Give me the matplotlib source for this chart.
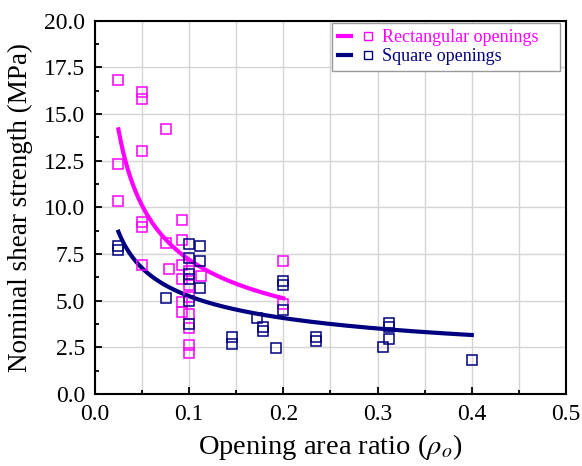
import numpy as np
import matplotlib
matplotlib.use('Agg')
from matplotlib import pyplot as plt
from matplotlib.lines import Line2D
from matplotlib.legend_handler import HandlerTuple
from matplotlib.ticker import MultipleLocator

plt.rcParams['font.family'] = 'Liberation Serif'
plt.rcParams['mathtext.fontset'] = 'stix'

# rectangular openings: opening area ratio vs nominal shear strength (MPa)
rect_ratio = [0.025, 0.025, 0.025, 0.05, 0.05, 0.05, 0.05, 0.05, 0.05,
              0.075, 0.075, 0.079, 0.093, 0.093, 0.093, 0.093, 0.093, 0.093,
              0.1, 0.1, 0.1, 0.1, 0.1, 0.1, 0.1, 0.113, 0.2, 0.2]
rect_strength = [16.8, 12.3, 10.35, 16.2, 15.8, 13.0, 9.2, 8.95, 6.9,
                 14.2, 8.1, 6.7, 9.3, 8.25, 6.9, 6.15, 4.95, 4.4,
                 6.6, 5.85, 5.2, 4.3, 3.55, 2.6, 2.2, 6.3, 7.1, 4.8]

# square openings
sq_ratio = [0.025, 0.025, 0.076, 0.1, 0.1, 0.1, 0.1, 0.1, 0.1,
            0.112, 0.112, 0.112, 0.146, 0.146, 0.172, 0.178, 0.178, 0.192,
            0.2, 0.2, 0.2, 0.235, 0.235, 0.306, 0.3125, 0.3125, 0.3125, 0.4]
sq_strength = [7.95, 7.7, 5.13, 8.05, 7.3, 6.45, 6.15, 4.98, 3.73,
               7.94, 7.12, 5.66, 3.04, 2.68, 4.05, 3.57, 3.39, 2.45,
               6.07, 5.84, 4.5, 3.04, 2.85, 2.5, 3.82, 3.57, 2.93, 1.82]

# power-law fits  v = a * rho^b
rect_fit = (2.335, -0.489)
rect_fit_range = (0.025, 0.2)
sq_fit = (2.262, -0.365)
sq_fit_range = (0.025, 0.4)

PINK = '#ff00ff'
NAVY = '#000080'

fig = plt.figure(figsize=(5.82, 4.66), dpi=100)
ax = fig.add_axes([0.163, 0.1545, 0.8095, 0.801])

ax.grid(True, which='major', axis='both', color='#d4d4d4', lw=1.0, zorder=0)
ax.grid(True, which='minor', axis='x', color='#d4d4d4', lw=1.0, zorder=0)

x1 = np.linspace(*rect_fit_range, 200)
x2 = np.linspace(*sq_fit_range, 200)
ax.plot(x1, rect_fit[0] * x1 ** rect_fit[1], color=PINK, lw=3, zorder=3)
ax.plot(x2, sq_fit[0] * x2 ** sq_fit[1], color=NAVY, lw=3, zorder=3)

ax.plot(rect_ratio, rect_strength, 's', ms=7, mfc='none', mec=PINK, mew=1.1, zorder=4)
ax.plot(sq_ratio, sq_strength, 's', ms=7, mfc='none', mec=NAVY, mew=1.1, zorder=4)

ax.set_xlim(0, 0.5)
ax.set_ylim(0, 20)
ax.xaxis.set_major_locator(MultipleLocator(0.1))
ax.xaxis.set_minor_locator(MultipleLocator(0.05))
ax.yaxis.set_major_locator(MultipleLocator(2.5))
ax.yaxis.set_minor_locator(MultipleLocator(1.25))
ax.xaxis.set_major_formatter(matplotlib.ticker.FormatStrFormatter('%.1f'))
ax.yaxis.set_major_formatter(matplotlib.ticker.FormatStrFormatter('%.1f'))
ax.tick_params(which='both', direction='in', top=False, right=False,
               labelsize=17, width=1.3)
ax.tick_params(which='major', length=5, pad=7)
ax.tick_params(which='minor', length=3)
for s in ax.spines.values():
    s.set_linewidth(1.5)

ax.set_xlabel(r'Opening area ratio ($\rho_o$)', fontsize=20.5, labelpad=5)
ax.set_ylabel('Nominal shear strength (MPa)', fontsize=19.5, labelpad=8)

handles = [
    (Line2D([], [], color=PINK, lw=3),
     Line2D([], [], marker='s', ls='none', ms=6, mfc='none', mec=PINK, mew=1.0)),
    (Line2D([], [], color=NAVY, lw=3),
     Line2D([], [], marker='s', ls='none', ms=6, mfc='none', mec=NAVY, mew=1.0)),
]
leg = ax.legend(handles, ['Rectangular openings', 'Square openings'],
                handler_map={tuple: HandlerTuple(ndivide=None, pad=0.6)},
                loc='upper left', bbox_to_anchor=(0.503, 0.0, 0.484, 0.994),
                mode='expand', borderaxespad=0,
                fontsize=13, fancybox=False,
                edgecolor='#999999', framealpha=1,
                handlelength=2.0, handletextpad=0.45, labelspacing=0.1,
                borderpad=0.35)
leg.get_frame().set_linewidth(1.0)
leg.get_texts()[0].set_color(PINK)
leg.get_texts()[1].set_color(NAVY)

fig.savefig('out.png', dpi=100)
